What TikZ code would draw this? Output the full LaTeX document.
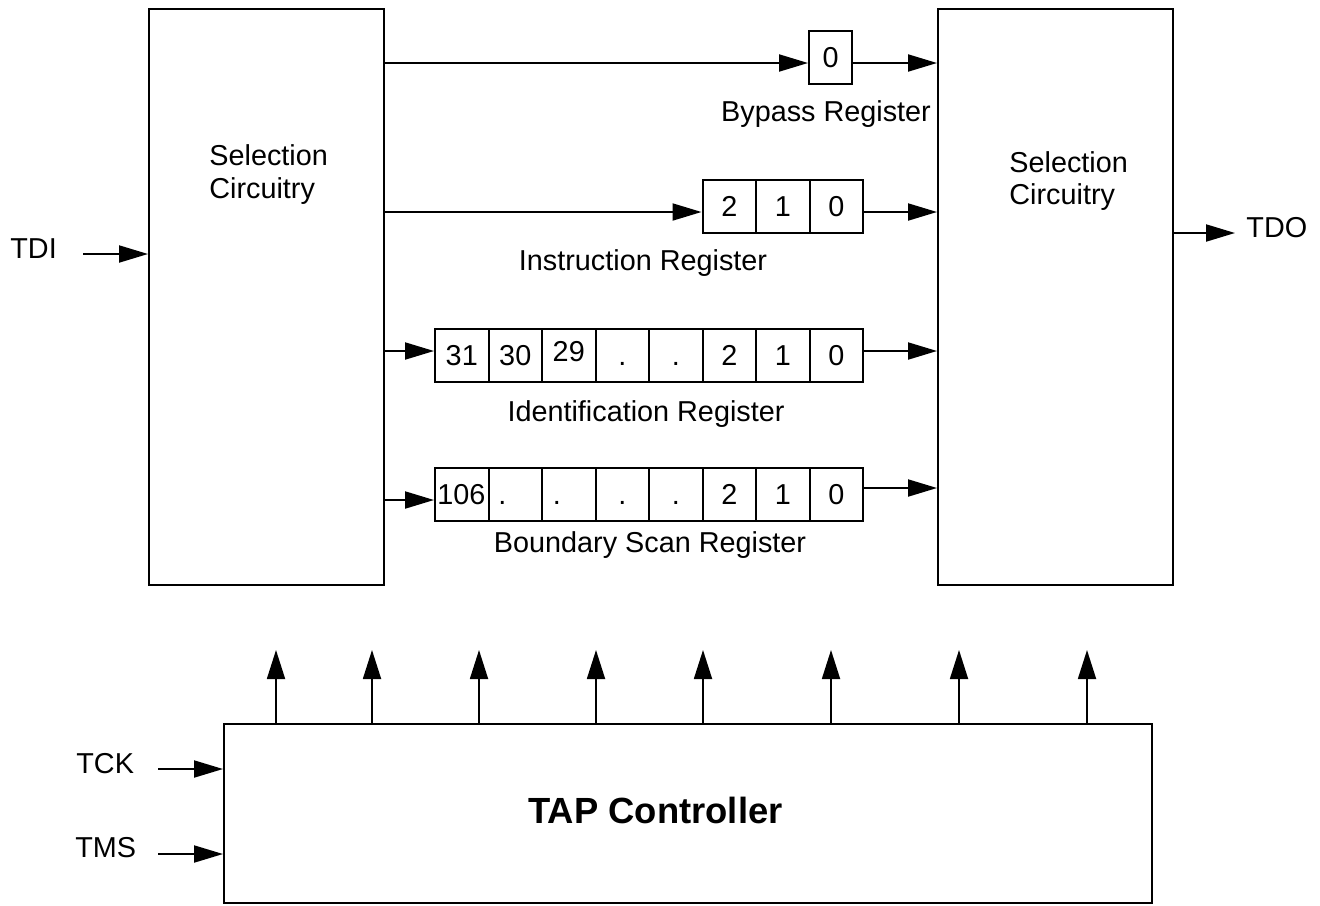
\documentclass[tikz,border=0pt]{standalone}
\usepackage{fontspec}
\setmainfont{Liberation Sans}
\usetikzlibrary{arrows.meta}
\begin{document}
\begin{tikzpicture}[x=0.5pt,y=-0.5pt,
  txt/.style={font=\fontsize{14.4}{16.5}\selectfont, inner sep=0pt},
  blk/.style={draw, line width=1.1pt, inner sep=0pt, anchor=north west},
  cell/.style={draw, line width=1pt, minimum width=26.75pt, minimum height=26.5pt, inner sep=0pt, text height=10.3pt, text depth=0pt, font=\fontsize{14.4}{16.5}\selectfont},
  dot/.style={txt, text height=10.3pt, text depth=0pt},
  arr/.style={line width=1pt, -{Triangle[length=14.5pt,width=8.5pt]}},
  uparr/.style={line width=0.9pt, -{Triangle[length=14.5pt,width=9pt]}},
]
\useasboundingbox (0,0) rectangle (1320,905);
% main blocks
\node[blk, minimum width=117.5pt, minimum height=288pt] (lsel) at (148,8) {};
\node[blk, minimum width=117.5pt, minimum height=288pt] (rsel) at (937,8) {};
\node[blk, minimum width=464pt, minimum height=89.5pt] (tap) at (223,723) {};
% block texts
\node[txt, anchor=base west] (lsel1) at (209,165) {Selection};
\node[txt, anchor=base west] (lsel2) at (209,198) {Circuitry};
\node[txt, anchor=base west] (rsel1) at (1009,172) {Selection};
\node[txt, anchor=base west] (rsel2) at (1009,204) {Circuitry};
\node[txt, anchor=base, font=\fontsize{18.2}{20}\selectfont\bfseries] (taptxt) at (655.5,823) {TAP Controller};
% bypass register
\node[cell, minimum width=21.5pt] (b0) at (830.5,57.5) {0};
\node[txt, anchor=base] (bplab) at (826,121) {Bypass Register};
% instruction register
\node[cell] (i2) at (729.25,206.5) {2};
\node[cell] (i1) at (782.75,206.5) {1};
\node[cell] (i0) at (836.25,206.5) {0};
\node[txt, anchor=base] (irlab) at (643,270) {Instruction Register};
% identification register
\node[cell] (d31) at (461.75,355.5) {31};
\node[cell] (d30) at (515.25,355.5) {30};
\node[cell] (d29) at (568.75,355.5) {};
\node[txt] (d29t) at ([yshift=2pt]d29.center) {29};
\node[cell] (d4) at (622.25,355.5) {.};
\node[cell] (d3) at (675.75,355.5) {.};
\node[cell] (d2) at (729.25,355.5) {2};
\node[cell] (d1) at (782.75,355.5) {1};
\node[cell] (d0) at (836.25,355.5) {0};
\node[txt, anchor=base] (idlab) at (646,421) {Identification Register};
% boundary scan register
\node[cell] (s106) at (461.75,494.5) {};
\node[txt, anchor=west] (s106t) at ([xshift=1.5pt]s106.west) {106};
\node[cell] (s6) at (515.25,494.5) {};
\node[dot] (s6t) at ([xshift=-6.5pt]s6.center) {.};
\node[cell] (s5) at (568.75,494.5) {};
\node[dot] (s5t) at ([xshift=-6pt]s5.center) {.};
\node[cell] (s4) at (622.25,494.5) {.};
\node[cell] (s3) at (675.75,494.5) {.};
\node[cell] (s2) at (729.25,494.5) {2};
\node[cell] (s1) at (782.75,494.5) {1};
\node[cell] (s0) at (836.25,494.5) {0};
\node[txt, anchor=base] (bslab) at (650,552) {Boundary Scan Register};
% data path arrows
\draw[arr] (lsel.east|-0,63) -- (b0.west|-0,63);
\draw[arr] (b0.east|-0,63) -- (rsel.west|-0,63);
\draw[arr] (lsel.east|-0,212) -- (i2.west|-0,212);
\draw[arr] (i0.east|-0,212) -- (rsel.west|-0,212);
\draw[arr] (lsel.east|-0,351) -- (d31.west|-0,351);
\draw[arr] (d0.east|-0,351) -- (rsel.west|-0,351);
\draw[arr] (lsel.east|-0,500) -- (s106.west|-0,500);
\draw[arr] (s0.east|-0,488) -- (rsel.west|-0,488);
% external pins
\node[txt, anchor=base west] (tdi) at (10,258) {TDI};
\coordinate (tdiin) at (83,254);
\draw[arr] (tdiin) -- (lsel.west|-tdiin);
\node[txt, anchor=base west] (tdo) at (1246,237) {TDO};
\coordinate (tdoout) at (1235,233);
\draw[arr] (rsel.east|-tdoout) -- (tdoout);
\node[txt, anchor=base west] (tck) at (76,773) {TCK};
\coordinate (tckin) at (158,769);
\draw[arr] (tckin) -- (tap.west|-tckin);
\node[txt, anchor=base west] (tms) at (75,857) {TMS};
\coordinate (tmsin) at (158,854);
\draw[arr] (tmsin) -- (tap.west|-tmsin);
% control arrows
\foreach \x in {276,372,479,596,703,831,959,1087}{
  \coordinate (up\x) at (\x,650);
  \draw[uparr] (tap.north-|up\x) -- (up\x);
}
\end{tikzpicture}
\end{document}
